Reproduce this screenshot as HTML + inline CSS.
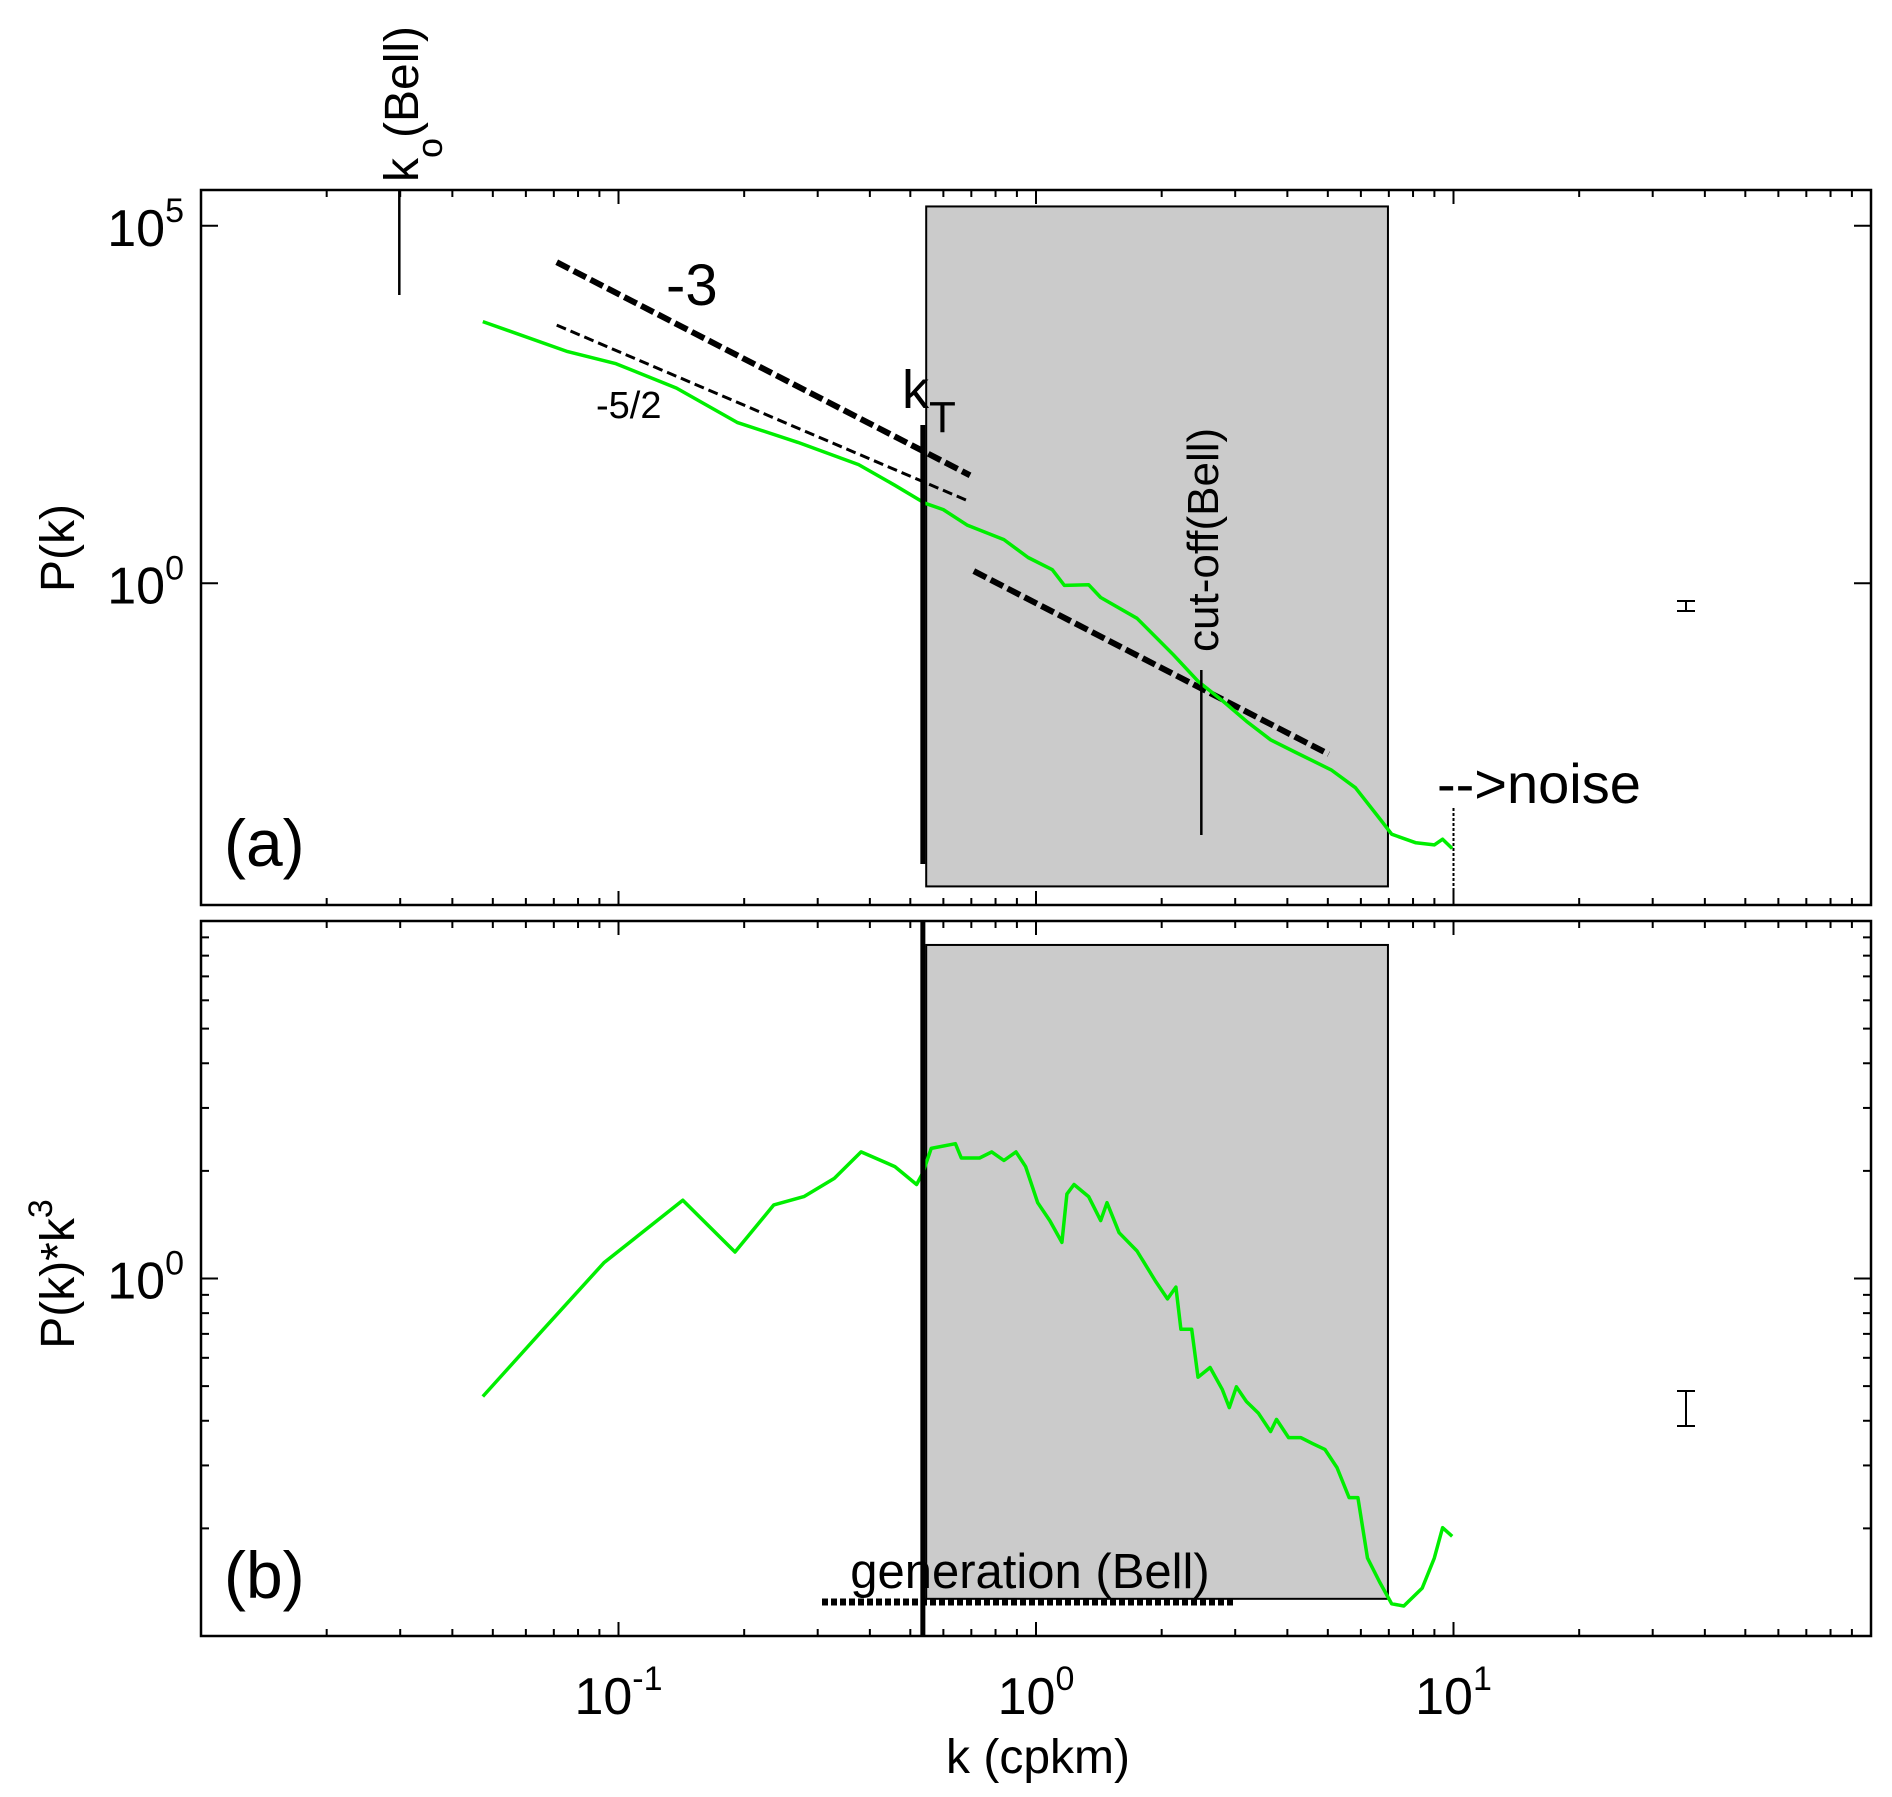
<!DOCTYPE html>
<html><head><meta charset="utf-8"><style>
html,body{margin:0;padding:0;background:#fff;}
svg{display:block;font-family:"Liberation Sans",sans-serif;}
</style></head><body>
<svg id="chart" width="1892" height="1797" viewBox="0 0 1892 1797" xmlns="http://www.w3.org/2000/svg">
<g id="layer"></g>
</svg>
<script>
// ---- data (log10 values) ----
const specLogK = [-1.325,-1.122,-1.006,-0.861,-0.716,-0.570,-0.425,-0.338,-0.266,-0.222,-0.164,-0.077,-0.019,0.039,0.068,0.126,0.155,0.242,0.329,0.388,0.446,0.504,0.562,0.620,0.707,0.765,0.823,0.852,0.910,0.954,0.974,0.997];
const specLogP = [3.66,3.24,3.07,2.73,2.25,1.97,1.66,1.37,1.12,1.03,0.81,0.61,0.36,0.19,-0.03,-0.02,-0.20,-0.49,-1.00,-1.37,-1.64,-1.93,-2.19,-2.36,-2.61,-2.86,-3.29,-3.51,-3.63,-3.66,-3.58,-3.71];
const compLogK = [-1.325,-1.180,-1.035,-0.846,-0.721,-0.628,-0.556,-0.483,-0.419,-0.338,-0.286,-0.271,-0.251,-0.193,-0.179,-0.135,-0.106,-0.077,-0.048,-0.025,0.004,0.033,0.062,0.074,0.091,0.126,0.155,0.170,0.199,0.242,0.286,0.315,0.335,0.347,0.373,0.388,0.417,0.446,0.463,0.480,0.504,0.533,0.562,0.576,0.605,0.634,0.663,0.692,0.721,0.750,0.771,0.794,0.823,0.852,0.881,0.925,0.954,0.974,0.997];
const compLogY = [-0.330,-0.142,0.044,0.219,0.074,0.206,0.229,0.280,0.354,0.313,0.263,0.296,0.364,0.377,0.337,0.337,0.354,0.330,0.354,0.313,0.212,0.162,0.101,0.236,0.263,0.229,0.162,0.212,0.128,0.077,-0.007,-0.057,-0.024,-0.142,-0.142,-0.276,-0.249,-0.310,-0.361,-0.303,-0.344,-0.377,-0.428,-0.394,-0.445,-0.445,-0.462,-0.478,-0.529,-0.613,-0.613,-0.782,-0.849,-0.910,-0.916,-0.866,-0.782,-0.697,-0.721];
const xTickExps = [-1,0,1];
const aTickExps = [0,5];
const bTickExps = [0];
const shadeLogK = [-0.263,0.843];
const shadeA = [-4.24,5.27];
const shadeB = [-0.896,0.933];
const kT = -0.271, kO = -1.525, kCut = 0.396, kNoise = 1.0;
const slope3 = [[-1.148,4.49],[-0.158,1.51]];
const slope52 = [[-1.148,3.61],[-0.158,1.14]];
const slope3b = [[-0.149,0.17],[0.701,-2.39]];

// ---- geometry ----
const X0=201, X1=1871, XMIN=-2, XMAX=2;
const A={top:190,bot:905,min:-4.5,max:5.5};
const B={top:921,bot:1636,min:-1,max:1};
const sx=l=>X0+(l-XMIN)/(XMAX-XMIN)*(X1-X0);
const sy=(P,l)=>P.bot-(l-P.min)/(P.max-P.min)*(P.bot-P.top);
const NS="http://www.w3.org/2000/svg";
const layer=document.getElementById('layer');
function mk(tag,attrs,txt){const e=document.createElementNS(NS,tag);for(const k in attrs)e.setAttribute(k,attrs[k]);if(txt!==undefined)e.textContent=txt;layer.appendChild(e);return e;}

function panel(P,name){
  const f=mk('rect',{x:X0,y:P.top,width:X1-X0,height:P.bot-P.top,fill:'none',stroke:'#000','stroke-width':2.5});
  
  
  for(let d=-2;d<2;d++){for(let m=1;m<10;m++){
    const x=sx(d+Math.log10(m)); const L=m===1?14:7;
    if(m===1&&d===-2)continue;
    const t1=mk('line',{x1:x,x2:x,y1:P.bot,y2:P.bot-L,stroke:'#000','stroke-width':2});
    
    
    const t2=mk('line',{x1:x,x2:x,y1:P.top,y2:P.top+L,stroke:'#000','stroke-width':2});
    
    
  }}
}
panel(A,'panel-a'); panel(B,'panel-b');

aTickExps.forEach(e=>{const y=sy(A,e);
  const t=mk('line',{x1:X0,x2:X0+17,y1:y,y2:y,stroke:'#000','stroke-width':2});
  
  
  const t2=mk('line',{x1:X1,x2:X1-17,y1:y,y2:y,stroke:'#000','stroke-width':2});
  
  
  const lb=mk('text',{x:184,y:y+20,'font-size':52,'text-anchor':'end'});
  
  
  lb.innerHTML='10<tspan dy="-24" font-size="34">'+e+'</tspan>';
});
for(let d=-1;d<1;d++){for(let m=1;m<10;m++){const l=d+Math.log10(m);if(m===1&&d===-1)continue;const y=sy(B,l);const L=m===1?17:8;
  const t=mk('line',{x1:X0,x2:X0+L,y1:y,y2:y,stroke:'#000','stroke-width':2});
  
  
  const t2=mk('line',{x1:X1,x2:X1-L,y1:y,y2:y,stroke:'#000','stroke-width':2});
  
  
}}
bTickExps.forEach(e=>{const y=sy(B,e);
  const lb=mk('text',{x:184,y:y+20,'font-size':52,'text-anchor':'end'});
  
  
  lb.innerHTML='10<tspan dy="-24" font-size="34">'+e+'</tspan>';
});
xTickExps.forEach(e=>{const x=sx(e);
  const lb=mk('text',{x:x,y:1714,'font-size':52,'text-anchor':'middle'});
  
  
  lb.innerHTML='10<tspan dy="-24" font-size="34">'+e+'</tspan>';
});

[[A,shadeA,'shade-a'],[B,shadeB,'shade-b']].forEach(([P,s,n])=>{
  const r=mk('rect',{x:sx(shadeLogK[0]),y:sy(P,s[1]),width:sx(shadeLogK[1])-sx(shadeLogK[0]),height:sy(P,s[0])-sy(P,s[1]),fill:'#cbcbcb',stroke:'#000','stroke-width':2});
  
  
});

function seg(P,s,w,dash,n){const l=mk('line',{x1:sx(s[0][0]),y1:sy(P,s[0][1]),x2:sx(s[1][0]),y2:sy(P,s[1][1]),stroke:'#000','stroke-width':w,'stroke-dasharray':dash});
  
  }
seg(A,slope3,6,'14 5','slope-minus3-line');
seg(A,slope52,3,'10 5','slope-minus5-2-line');
seg(A,slope3b,6,'14 5','slope-minus3-line-high');

function curve(P,xs,ys,n){const d=xs.map((x,i)=>(i?'L':'M')+sx(x).toFixed(1)+','+sy(P,ys[i]).toFixed(1)).join('');
  const p=mk('path',{d:d,fill:'none',stroke:'#00ee00','stroke-width':3.5,'stroke-linejoin':'round'});
  
  }
curve(A,specLogK,specLogP,'spectrum-line');
curve(B,compLogK,compLogY,'compensated-spectrum-line');

function vl(x,y1,y2,w,n,dash){const l=mk('line',{x1:x,x2:x,y1:y1,y2:y2,stroke:'#000','stroke-width':w});if(dash)l.setAttribute('stroke-dasharray',dash);
  
  }
vl(sx(kT),425,864,5,'kT-line-a');
vl(sx(kT),921,1636,5,'kT-line-b');
vl(sx(kO),190,295,2.5,'k0-line');
vl(sx(kCut),670,835,2.5,'cutoff-line');
vl(sx(kNoise),808,905,2,'noise-line','3 2');

function eb(x,y1,y2,n){vl(x,y1,y2,2,n);
  const a=mk('line',{x1:x-9,x2:x+9,y1:y1,y2:y1,stroke:'#000','stroke-width':2});
  const b=mk('line',{x1:x-9,x2:x+9,y1:y2,y2:y2,stroke:'#000','stroke-width':2});}
eb(1686,601,611,'error-bar-a');
eb(1686,1391,1426,'error-bar-b');

const g=mk('line',{x1:822,x2:1235,y1:1602,y2:1602,stroke:'#000','stroke-width':7,'stroke-dasharray':'6 3'});



function tx(x,y,s,txt,n,extra){const t=mk('text',Object.assign({x:x,y:y,'font-size':s},extra||{}),txt);
  
  return t;}
tx(224,866,66,'(a)','panel-a-label');
tx(224,1598,66,'(b)','panel-b-label');
tx(1038,1773,48,'k (cpkm)','x-axis-title',{'text-anchor':'middle'});
tx(0,0,48,'P(k)','y-axis-title-a',{'text-anchor':'middle',transform:'translate(74,548) rotate(-90)'});
const yb=tx(0,0,48,'','y-axis-title-b',{'text-anchor':'middle',transform:'translate(74,1274) rotate(-90)'});
yb.innerHTML='P(k)*k<tspan dy="-22" font-size="34">3</tspan>';
tx(666,305,58,'-3','slope-minus3-label');
tx(596,418,38,'-5/2','slope-minus5-2-label');
const kt=tx(902,408,54,'k','kT-label');
kt.innerHTML='k<tspan dy="24" font-size="44">T</tspan>';
const ko=tx(0,0,48,'','k0-label',{transform:'translate(418,182) rotate(-90)'});
ko.innerHTML='k<tspan dy="24" font-size="36">o</tspan><tspan dy="-24">(Bell)</tspan>';
tx(0,0,44,'cut-off(Bell)','cutoff-label',{transform:'translate(1218,652) rotate(-90)'});
tx(1437,803,56,'-->noise','noise-label');
tx(1030,1588,49,'generation (Bell)','generation-label',{'text-anchor':'middle'});
</script>
</body></html>
